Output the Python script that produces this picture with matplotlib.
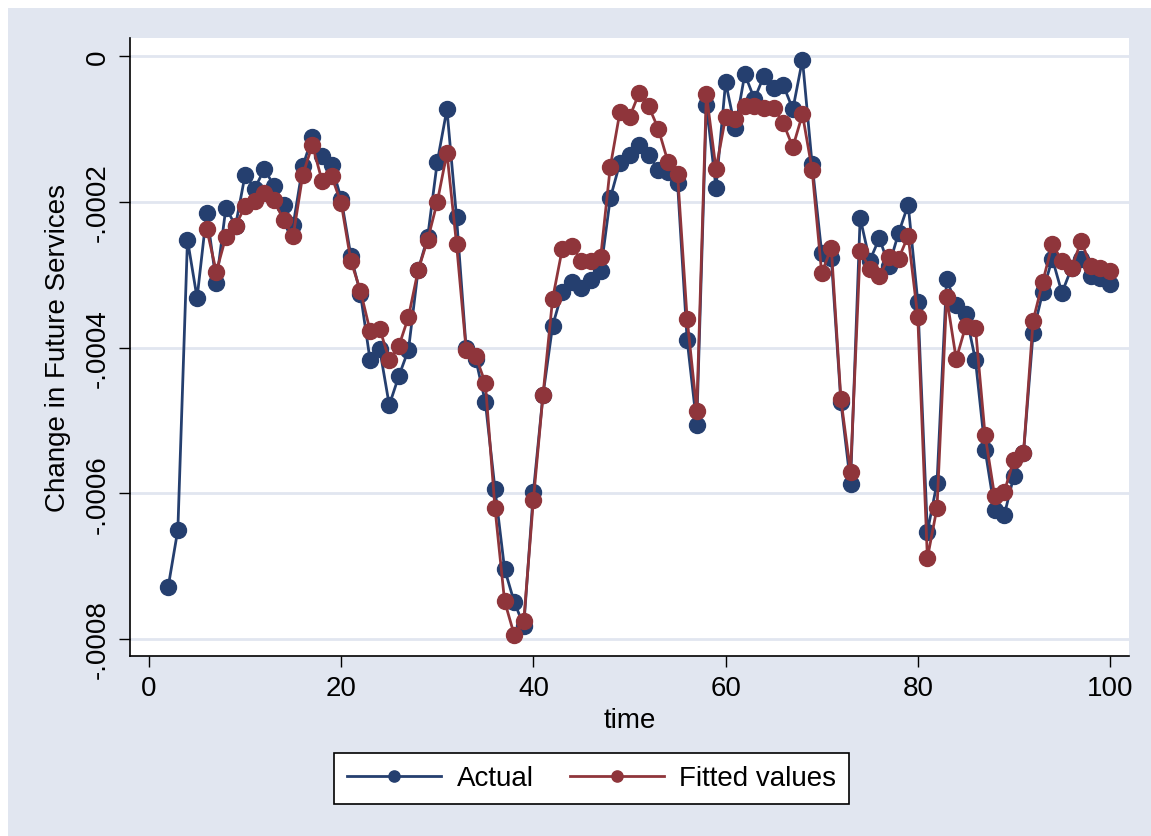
import matplotlib
matplotlib.use('Agg')
import matplotlib.pyplot as plt
import numpy as np
from matplotlib.patches import Rectangle

plt.rcParams['font.family'] = ['Liberation Sans', 'DejaVu Sans']

# values in units of 1e-4
actualT = list(range(2, 101))
actualV = [-7.28, -6.50, -2.52, -3.32, -2.15, -3.11, -2.08, -2.33, -1.63, -1.82,
           -1.55, -1.78, -2.04, -2.32, -1.51, -1.11, -1.37, -1.50, -1.96, -2.74,
           -3.26, -4.17, -4.02, -4.79, -4.39, -4.03, -2.94, -2.48, -1.45, -0.73,
           -2.21, -4.01, -4.16, -4.75, -5.94, -7.04, -7.49, -7.82, -5.98, -4.65,
           -3.70, -3.24, -3.10, -3.18, -3.07, -2.95, -1.95, -1.47, -1.36, -1.22,
           -1.36, -1.56, -1.59, -1.74, -3.90, -5.06, -0.67, -1.81, -0.36, -0.99,
           -0.25, -0.59, -0.27, -0.44, -0.40, -0.73, -0.05, -1.48, -2.70, -2.77,
           -4.75, -5.87, -2.22, -2.81, -2.50, -2.88, -2.43, -2.04, -3.37, -6.53,
           -5.86, -3.06, -3.42, -3.54, -4.17, -5.40, -6.23, -6.30, -5.76, -5.45,
           -3.80, -3.24, -2.78, -3.25, -2.91, -2.78, -3.02, -3.05, -3.13]

fittedT = list(range(6, 101))
fittedV = [-2.37, -2.96, -2.48, -2.33, -2.06, -1.99, -1.88, -1.98, -2.25, -2.47,
           -1.63, -1.22, -1.71, -1.65, -2.02, -2.81, -3.22, -3.77, -3.74, -4.17,
           -3.98, -3.58, -2.94, -2.52, -2.00, -1.33, -2.58, -4.03, -4.12, -4.49,
           -6.20, -7.48, -7.94, -7.75, -6.09, -4.65, -3.33, -2.65, -2.61, -2.81,
           -2.81, -2.76, -1.52, -0.77, -0.84, -0.51, -0.69, -1.00, -1.45, -1.62,
           -3.61, -4.87, -0.52, -1.55, -0.84, -0.86, -0.69, -0.69, -0.71, -0.71,
           -0.92, -1.25, -0.80, -1.56, -2.98, -2.63, -4.71, -5.71, -2.67, -2.92,
           -3.02, -2.76, -2.78, -2.47, -3.58, -6.89, -6.20, -3.31, -4.16, -3.70,
           -3.73, -5.20, -6.04, -5.98, -5.54, -5.45, -3.63, -3.10, -2.58, -2.81,
           -2.91, -2.54, -2.88, -2.91, -2.95]

yticks = [0, -0.0002, -0.0004, -0.0006, -0.0008]
ytickLabels = ['0', '-.0002', '-.0004', '-.0006', '-.0008']
xticks = [0, 20, 40, 60, 80, 100]

navy = '#253f6f'
maroon = '#8f353b'
bg = '#e1e6f0'

fig = plt.figure(figsize=(11.51, 8.37), dpi=100, facecolor='white')
fig.patches.append(Rectangle((8 / 1151, 0), 1, 1 - 9 / 837, transform=fig.transFigure,
                             facecolor=bg, edgecolor='none', zorder=-10))

ax = fig.add_axes([130 / 1151, 1 - 657 / 837, 999 / 1151, 618 / 837])
ax.set_facecolor('white')

ax.plot(actualT, np.array(actualV) * 1e-4, color=navy, lw=2, marker='o',
        markersize=11.5, label='Actual', zorder=3)
ax.plot(fittedT, np.array(fittedV) * 1e-4, color=maroon, lw=2, marker='o',
        markersize=11.5, label='Fitted values', zorder=4)

ax.set_xlim(-1.98, 101.98)
ax.set_ylim(-0.0008233, 0.0000247)
ax.set_xticks(xticks)
ax.set_yticks(yticks)
ax.set_yticklabels(ytickLabels, rotation=90, va='center')
ax.tick_params(labelsize=20, length=8, width=1, direction='out', pad=6)
ax.grid(axis='y', color=bg, lw=2)
ax.set_axisbelow(True)
for s in ['top', 'right']:
    ax.spines[s].set_visible(False)
for s in ['left', 'bottom']:
    ax.spines[s].set_linewidth(1.2)

ax.set_xlabel('time', fontsize=20, labelpad=4)
ax.set_ylabel('Change in Future Services', fontsize=20, labelpad=10)

leg = fig.legend(loc='center', bbox_to_anchor=(591.5 / 1151, 1 - 779.5 / 837),
                 ncol=2, fontsize=20, frameon=True, fancybox=False, framealpha=1,
                 markerscale=0.7, handlelength=3.4, columnspacing=1.3,
                 borderpad=0.45, handletextpad=0.55, borderaxespad=0)
leg.get_frame().set_edgecolor('black')
leg.get_frame().set_facecolor('white')
leg.get_frame().set_linewidth(1.2)

plt.savefig('out.png', dpi=100, facecolor=fig.get_facecolor())
